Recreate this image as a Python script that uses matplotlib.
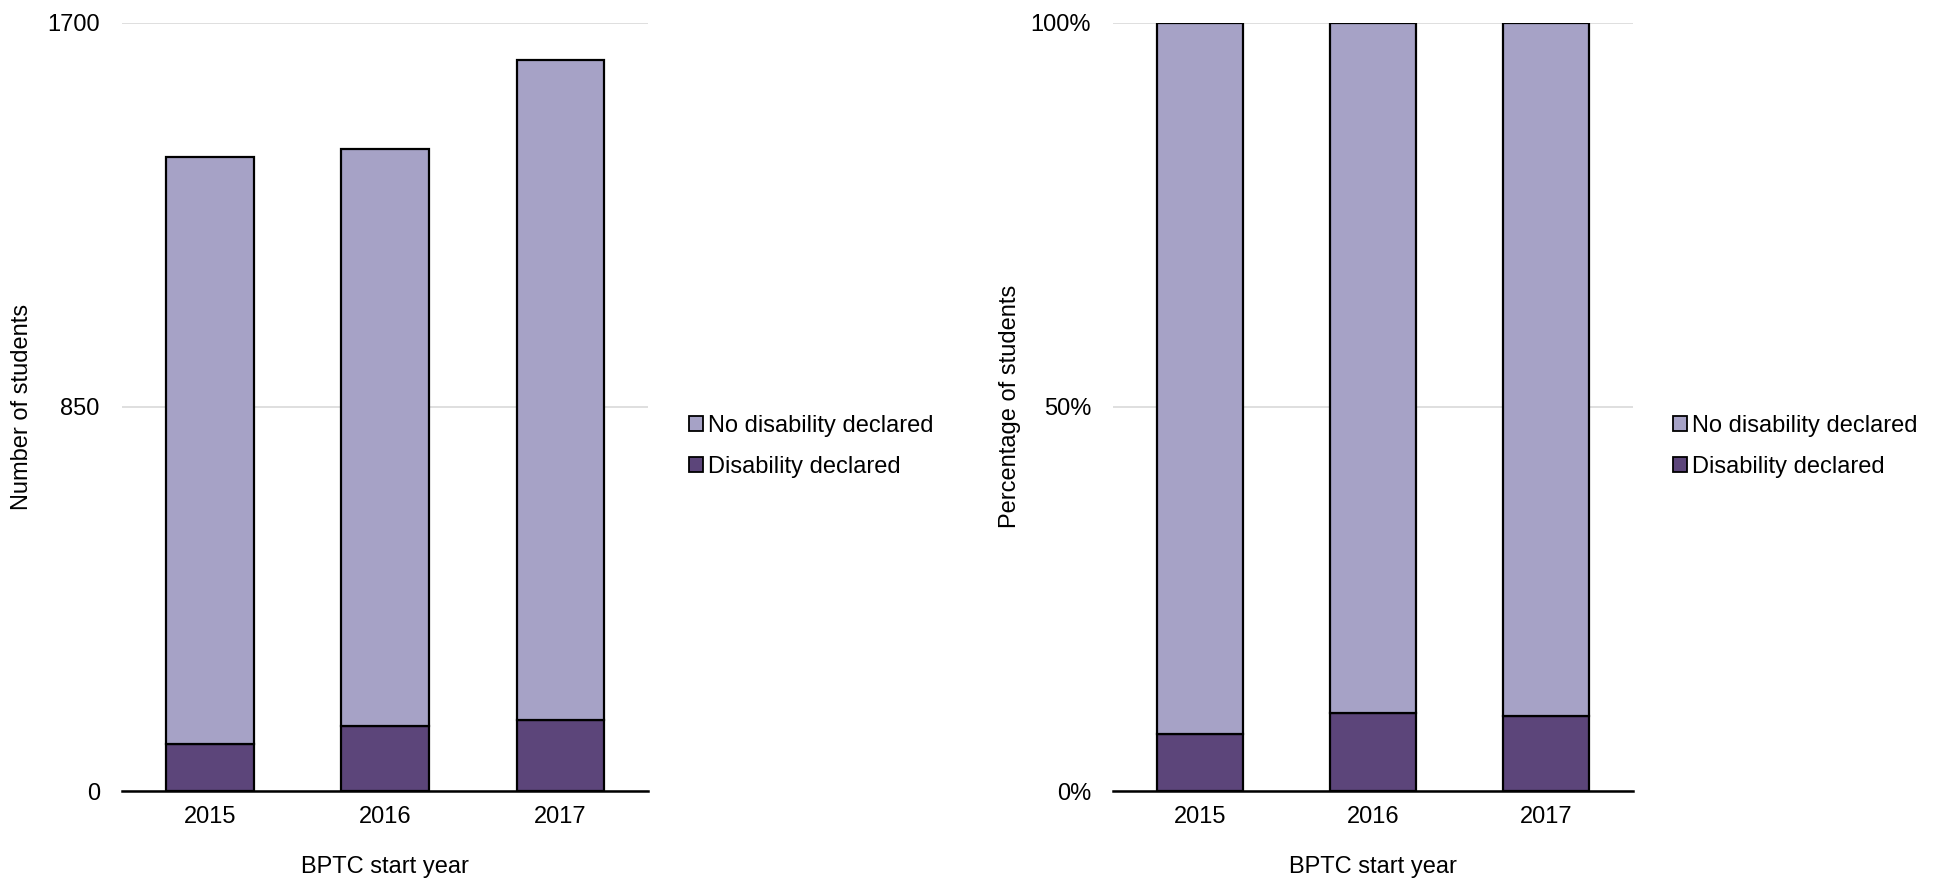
import numpy as np
import matplotlib.pyplot as plt
from matplotlib.patches import Patch
from matplotlib.ticker import FuncFormatter

plt.rcParams['font.family'] = ['Liberation Sans', 'DejaVu Sans']

#data
years = ["2015", "2016", "2017"]
disability = [104, 144, 158]
no_disability = [1299, 1276, 1460]

count_ticks = [0, 850, 1700]
pct_ticks = [0, 50, 100]

light = "#A6A2C6"
dark = "#5C457A"
font_size = 17
edge_w = 1.6

#percentages from the counts
totals = np.array(disability) + np.array(no_disability)
dis_pct = np.array(disability) / totals * 100
no_dis_pct = np.array(no_disability) / totals * 100

fig = plt.figure(figsize = (19.41, 8.84), dpi = 100)
ax1 = fig.add_axes([0.0629, 0.1052, 0.2710, 0.8691])
ax2 = fig.add_axes([0.5736, 0.1052, 0.2675, 0.8691])


def draw(ax, low, high, ticks, ylabel, label_x):
    x = np.arange(len(years))
    ax.bar(x, low, width = 0.5, color = dark, edgecolor = "black", linewidth = edge_w, zorder = 3)
    ax.bar(x, high, bottom = low, width = 0.5, color = light, edgecolor = "black", linewidth = edge_w, zorder = 3)
    ax.set_xlim(-0.5, len(years) - 0.5)
    ax.set_ylim(ticks[0], ticks[-1])
    ax.set_yticks(ticks)
    ax.set_xticks(x)
    ax.set_xticklabels(years)
    ax.grid(axis = "y", color = "#D9D9D9", linewidth = 1.2, zorder = 0)
    for side in ["top", "right", "left"]:
        ax.spines[side].set_visible(False)
    ax.spines["bottom"].set_linewidth(1.8)
    ax.spines["bottom"].set_zorder(4)
    ax.tick_params(length = 0, labelsize = font_size)
    ax.tick_params(axis = "x", pad = 11)
    ax.tick_params(axis = "y", pad = 16)
    ax.set_ylabel(ylabel, fontsize = font_size)
    ax.yaxis.set_label_coords(label_x, 0.5)
    ax.set_xlabel("BPTC start year", fontsize = font_size)
    ax.xaxis.set_label_coords(0.5, -0.085)


draw(ax1, disability, no_disability, count_ticks, "Number of students", -0.169)
draw(ax2, dis_pct, no_dis_pct, pct_ticks, "Percentage of students", -0.178)
ax2.yaxis.set_major_formatter(FuncFormatter(lambda v, p: "{:.0f}%".format(v)))

handles = [Patch(facecolor = light, edgecolor = "black", linewidth = 1.3),
           Patch(facecolor = dark, edgecolor = "black", linewidth = 1.3)]
labels = ["No disability declared", "Disability declared"]
for lx in [0.355, 0.862]:
    fig.legend(handles, labels, loc = "center left", bbox_to_anchor = (lx, 0.495),
               frameon = False, fontsize = font_size, handlelength = 0.6, handleheight = 0.6,
               handletextpad = 0.2, labelspacing = 0.8, borderpad = 0, borderaxespad = 0)

fig.savefig("out.png", dpi = 100)
